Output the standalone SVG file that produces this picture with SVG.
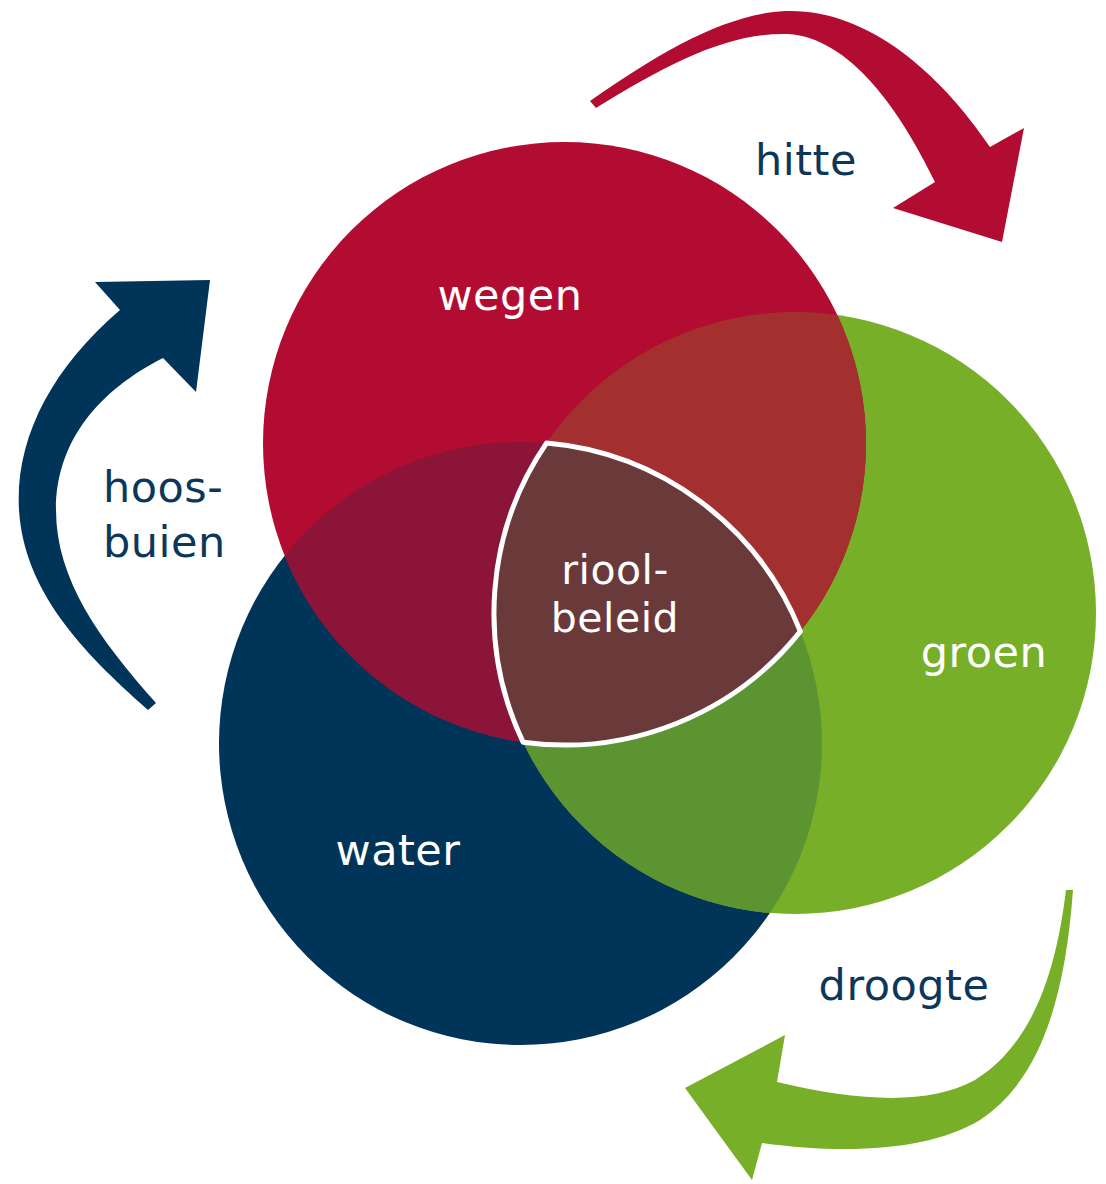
<svg xmlns="http://www.w3.org/2000/svg" width="1106" height="1184" viewBox="0 0 1106 1184">
<style>
.lbl{font-family:"DejaVu Sans","Verdana",sans-serif;font-size:43px;letter-spacing:0.5px}
.sm{font-size:41px}
.w{fill:#ffffff}
.d{fill:#0c375a}
</style>
<defs>
<clipPath id="cR"><circle cx="564.5" cy="443.5" r="301.5"/></clipPath>
<clipPath id="cB"><circle cx="520.5" cy="743.5" r="301.5"/></clipPath>
</defs>
<rect width="1106" height="1184" fill="#ffffff"/>
<g id="connectors">
<path id="arrow-hitte" fill="#b20c32" d="M590,101 C660,52 725,14 785,11 C865,8 938,70 990,147 L1024,128 L1002,242 L893,208 L935,182 C900,110 850,38 788,34 C730,32 670,62 596,108 Z"/>
<path id="arrow-hoosbuien" fill="#003459" d="M120,310 C50,370 15,440 19,510 C24,590 80,650 148,710 L156,703 C100,640 56,580 56,510 C56,440 100,390 163,358 L196,392 L210,280 L95,282 Z"/>
<path id="arrow-droogte" fill="#77af29" d="M1066,890 L1073,890 C1065,1000 1040,1080 980,1120 C930,1150 850,1155 762,1143 L752,1180 L685,1088 L785,1035 L777,1082 C860,1102 930,1105 975,1080 C1030,1045 1055,980 1066,890 Z"/>
</g>
<g id="node-water"><circle cx="520.5" cy="743.5" r="301.5" fill="#003459"/></g>
<g id="node-groen"><circle cx="795" cy="613" r="301" fill="#77af29"/></g>
<g id="node-wegen"><circle cx="564.5" cy="443.5" r="301.5" fill="#b20c32"/></g>
<g id="overlaps">
<circle cx="520.5" cy="743.5" r="301.5" fill="#8b1438" clip-path="url(#cR)"/>
<circle cx="795" cy="613" r="301" fill="#a3302f" clip-path="url(#cR)"/>
<circle cx="795" cy="613" r="301" fill="#5c9432" clip-path="url(#cB)"/>
</g>
<g id="node-rioolbeleid">
<path d="M546.5,443.1 A301.5,301.5 0 0 1 800.35,631.32 A301.5,301.5 0 0 1 523.1,742.15 A301,301 0 0 1 546.5,443.1 Z" fill="#6a3a3b" stroke="#ffffff" stroke-width="5" stroke-linejoin="round"/>
<text class="lbl sm w" x="615" y="584" text-anchor="middle">riool-</text>
<text class="lbl sm w" x="615" y="632" text-anchor="middle">beleid</text>
</g>
<g id="labels">
<text class="lbl w" x="510" y="310" text-anchor="middle">wegen</text>
<text class="lbl w" x="984" y="667" text-anchor="middle">groen</text>
<text class="lbl w" x="398" y="865" text-anchor="middle">water</text>
<text class="lbl d" x="806" y="175" text-anchor="middle">hitte</text>
<text class="lbl d" x="103" y="502">hoos-</text>
<text class="lbl d" x="103" y="557">buien</text>
<text class="lbl d" x="904" y="1000" text-anchor="middle">droogte</text>
</g>
</svg>
